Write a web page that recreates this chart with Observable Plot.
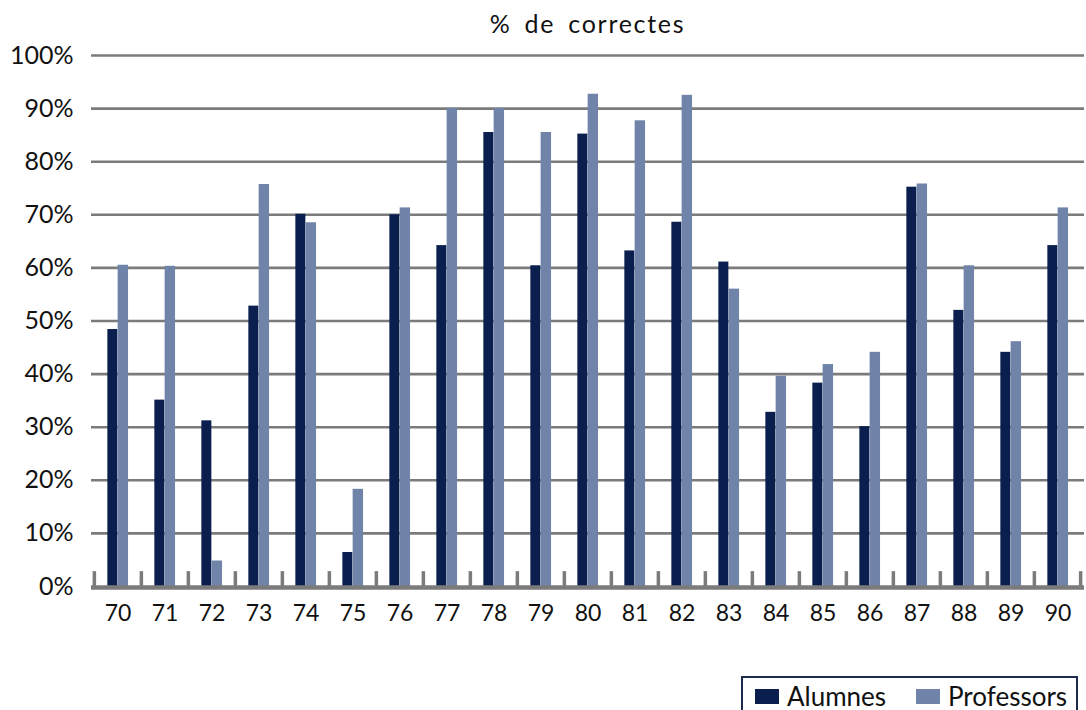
<!DOCTYPE html>
<html>
<head>
<meta charset="utf-8">
<script src="https://cdn.jsdelivr.net/npm/d3@7"></script>
<script src="https://cdn.jsdelivr.net/npm/@observablehq/plot@0.6"></script>
<style>
  html, body { margin: 0; padding: 0; background: #fff; overflow: hidden; }
  body { width: 1086px; height: 710px; position: relative; font-family: Lato, "Open Sans", sans-serif; }
  #title { position: absolute; z-index: 2; left: 91px; width: 993px; top: 8px; text-align: center; font-size: 25px; letter-spacing: 1.7px; word-spacing: 5px; color: #111; }
  #chart { position: absolute; z-index: 1; left: 0; top: 30px; }
  #legend { position: absolute; z-index: 3; left: 741px; top: 676px; width: 333px; height: 44px; border: 2px solid #1c2a4f; background: #fff; }
  .sw { position: absolute; top: 11px; width: 24px; height: 15px; }
  .lab { position: absolute; top: 1px; font-size: 26px; color: #111; line-height: 34px; }
</style>
</head>
<body>
<div id="title">% de correctes</div>
<div id="chart"></div>
<div id="legend">
  <div class="sw" style="left:12px;background:#0b1f4e"></div>
  <div class="lab" style="left:44px">Alumnes</div>
  <div class="sw" style="left:173px;background:#7083a9"></div>
  <div class="lab" style="left:205px">Professors</div>
</div>
<script>
const categories = ["70","71","72","73","74","75","76","77","78","79","80","81","82","83","84","85","86","87","88","89","90"];
const alumnes    = [48.4, 35.1, 31.2, 52.8, 70.1, 6.4, 70.0, 64.2, 85.5, 60.4, 85.2, 63.2, 68.6, 61.1, 32.8, 38.3, 30.1, 75.2, 52.0, 44.1, 64.2];
const professors = [60.5, 60.3, 4.8, 75.7, 68.5, 18.3, 71.3, 90.0, 90.0, 85.5, 92.7, 87.7, 92.5, 56.0, 39.6, 41.8, 44.1, 75.8, 60.4, 46.1, 71.3];
const series = ["Alumnes", "Professors"];
const seriesColors = ["#0b1f4e", "#7083a9"];
const yTicks = [0,10,20,30,40,50,60,70,80,90,100];

const width = 1086, marginLeft = 91, marginRight = 2;
const step = (width - marginLeft - marginRight) / categories.length;
const barW = 10.3;

const rows = [];
categories.forEach((c, i) => {
  rows.push({cat: c, serie: series[0], value: alumnes[i]});
  rows.push({cat: c, serie: series[1], value: professors[i]});
});

const gray = "#7b7b7b";

const plot = Plot.plot({
  width,
  height: 598,
  marginLeft,
  marginRight,
  marginTop: 25,
  marginBottom: 42,
  style: {fontFamily: "Lato, 'Open Sans', sans-serif", color: "#111", background: "transparent", overflow: "visible"},
  x: {domain: categories, padding: 0, label: null},
  y: {domain: [0, 100], label: null},
  color: {domain: series, range: seriesColors},
  marks: [
    Plot.ruleY(yTicks.filter(d => d > 0), {stroke: gray, strokeWidth: 2.6}),
    Plot.barY(rows.filter(d => d.serie === series[0]), {x: "cat", y: "value", fill: "serie", insetLeft: step/2 - barW, insetRight: step/2}),
    Plot.barY(rows.filter(d => d.serie === series[1]), {x: "cat", y: "value", fill: "serie", insetLeft: step/2, insetRight: step/2 - barW - 0.4}),
    Plot.ruleX(categories, {x: d => d, dx: -step/2, y1: 0, y2: 2.8, stroke: gray, strokeWidth: 3.5}),
    Plot.ruleX([categories[categories.length - 1]], {x: d => d, dx: step/2 - 1, y1: 0, y2: 2.8, stroke: gray, strokeWidth: 3.5}),
    Plot.ruleY([0], {stroke: gray, strokeWidth: 4.5, dy: 1}),
    Plot.axisY({ticks: yTicks, tickFormat: d => d + "%", tickSize: 0, tickPadding: 18, fontSize: 25, label: null}),
    Plot.axisX({tickSize: 0, tickPadding: 18, fontSize: 23, label: null})
  ]
});
document.getElementById("chart").appendChild(plot);
</script>
</body>
</html>
